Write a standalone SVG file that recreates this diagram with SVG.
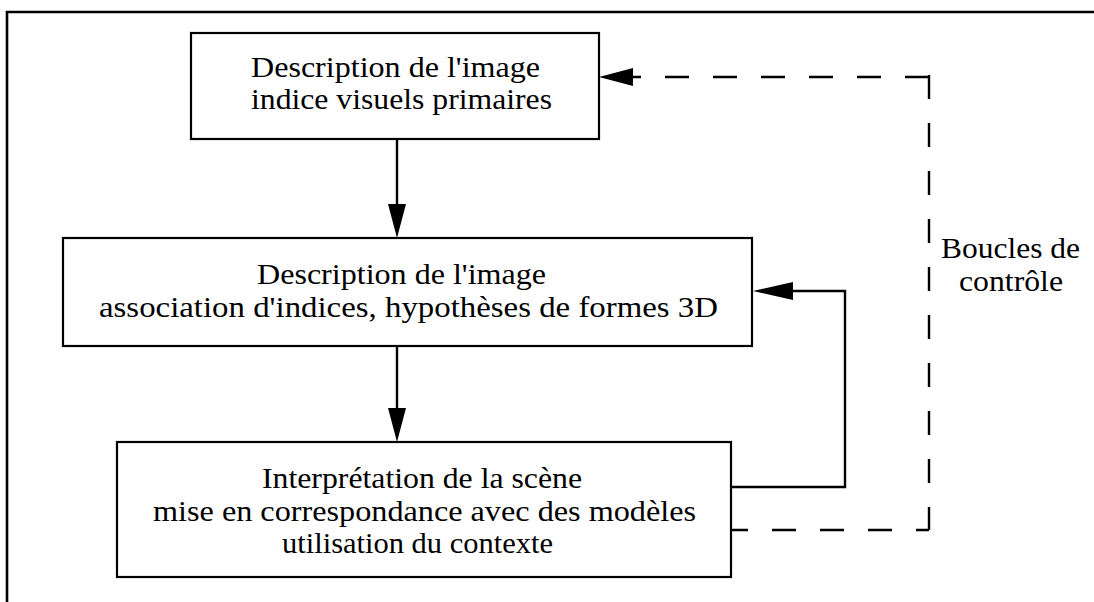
<svg xmlns="http://www.w3.org/2000/svg" width="1094" height="602" viewBox="0 0 1094 602">
<style>
.box{fill:#fff;stroke:#000;stroke-width:2.2}
.t{font-family:"Liberation Serif","Times New Roman",serif;font-size:30px;fill:#000}
.ln{fill:none;stroke:#000;stroke-width:2.4}
.dash{fill:none;stroke:#000;stroke-width:2.4;stroke-dasharray:24 24}
.ah{fill:#000;stroke:none}
</style>
<rect width="1094" height="602" fill="#fff"/>
<path d="M7 602 V12 H1096" fill="none" stroke="#000" stroke-width="2.6"/>
<g id="connectors">
<line class="ln" x1="397" y1="139" x2="397" y2="206"/>
<polygon class="ah" points="397,238 388,204 406,204"/>
<line class="ln" x1="397" y1="346" x2="397" y2="410"/>
<polygon class="ah" points="397,442 388,408 406,408"/>
<path class="ln" d="M731 487 H845 V291 H792"/>
<polygon class="ah" points="753,291 793,282 793,300"/>
<path class="dash" d="M724 530 H929"/>
<path class="dash" d="M929 75 V530"/>
<path class="dash" d="M929 77 H633"/>
<polygon class="ah" points="599,77 633,68 633,86"/>
</g>
<g id="node1">
<rect class="box" x="191" y="33" width="408" height="106"/>
<text class="t" x="251" y="77" textLength="289" lengthAdjust="spacingAndGlyphs">Description de l'image</text>
<text class="t" x="251" y="109" textLength="301" lengthAdjust="spacingAndGlyphs">indice visuels primaires</text>
</g>
<g id="node2">
<rect class="box" x="63" y="238" width="689" height="108"/>
<text class="t" x="257" y="284" textLength="289" lengthAdjust="spacingAndGlyphs">Description de l'image</text>
<text class="t" x="99" y="317" textLength="619" lengthAdjust="spacingAndGlyphs">association d'indices, hypothèses de formes 3D</text>
</g>
<g id="node3">
<rect class="box" x="117" y="442" width="614" height="135"/>
<text class="t" x="262" y="488" textLength="320" lengthAdjust="spacingAndGlyphs">Interprétation de la scène</text>
<text class="t" x="153" y="521" textLength="543" lengthAdjust="spacingAndGlyphs">mise en correspondance avec des modèles</text>
<text class="t" x="282" y="553" textLength="271" lengthAdjust="spacingAndGlyphs">utilisation du contexte</text>
</g>
<g id="label">
<text class="t" x="941" y="258" textLength="139" lengthAdjust="spacingAndGlyphs">Boucles de</text>
<text class="t" x="959" y="291" textLength="104" lengthAdjust="spacingAndGlyphs">contrôle</text>
</g>
</svg>
